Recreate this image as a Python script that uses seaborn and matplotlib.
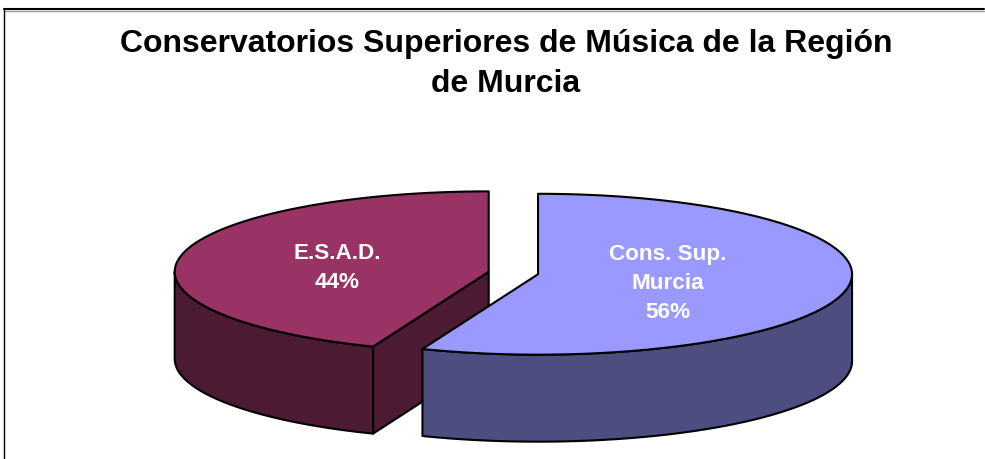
import numpy as np
import matplotlib.pyplot as plt
import seaborn as sns
from matplotlib.patches import Polygon
from matplotlib.lines import Line2D

sns.set_style("white")
plt.rcParams['font.family'] = ['Liberation Sans', 'DejaVu Sans']

# data (clockwise from 12 o'clock, as in the original chart)
categories = ["Cons. Sup.\nMurcia", "E.S.A.D."]
shares = [56, 44]
top_colors = ["#9999FF", "#993366"]
side_colors = ["#4D4D80", "#4C1A33"]
title = "Conservatorios Superiores de Música de la Región\nde Murcia"

# 3d look
tilt = 0.256      # vertical squash of the disc
depth = 0.277     # thickness of the disc
explode = 0.08
label_dist = [0.42, 0.49]

fig = plt.figure(figsize=(9.85, 4.59), dpi=100)
ax = fig.add_axes([0, 0, 1, 1])
ax.set_xlim(-1.635, 1.502)
ax.set_ylim(-0.592, 0.869)
ax.axis('off')

# slice angles (degrees, counter-clockwise math convention)
fracs = np.array(shares) / sum(shares) * 360
ends = 90 - np.concatenate([[0], np.cumsum(fracs)])
slices = []
for i in range(len(shares)):
    t2, t1 = ends[i], ends[i + 1]
    mid = np.deg2rad((t1 + t2) / 2)
    ox, oy = explode * np.cos(mid), explode * np.sin(mid) * tilt
    slices.append((t1, t2, mid, ox, oy))

edge = dict(edgecolor='black', linewidth=1.5, joinstyle='round')

def pt(ox, oy, ang, dz=0.0):
    a = np.deg2rad(ang)
    return ox + np.cos(a), oy + tilt * np.sin(a) - dz

# draw back slice first
for i in reversed(range(len(shares))):
    t1, t2, mid, ox, oy = slices[i]
    angs = np.linspace(t1, t2, 300)
    # outer wall (front half only)
    front = angs[np.sin(np.deg2rad(angs)) <= 1e-9]
    if len(front) > 1:
        top = [pt(ox, oy, a) for a in front]
        bot = [pt(ox, oy, a, depth) for a in front[::-1]]
        ax.add_patch(Polygon(top + bot, closed=True, facecolor=side_colors[i], **edge))
    # cut faces
    for ang, sgn in ((t1, -1), (t2, 1)):
        if sgn * np.cos(np.deg2rad(ang)) < -1e-6:
            face = [(ox, oy), pt(ox, oy, ang), pt(ox, oy, ang, depth), (ox, oy - depth)]
            ax.add_patch(Polygon(face, closed=True, facecolor=side_colors[i], **edge))
    # top surface
    top = [(ox, oy)] + [pt(ox, oy, a) for a in angs]
    ax.add_patch(Polygon(top, closed=True, facecolor=top_colors[i], **edge))
    # label
    lx = ox + label_dist[i] * np.cos(mid)
    ly = oy + label_dist[i] * tilt * np.sin(mid)
    ax.text(lx, ly - 0.01, f"{categories[i]}\n{shares[i]}%", ha='center', va='center',
            color='white', fontsize=16.2, fontweight='bold', linespacing=1.5)

fig.text(506 / 985, 1 - 64 / 459, title, ha='center', va='center', color='black',
         fontsize=23, fontweight='bold', linespacing=1.4)

# chart area frame (top and left edges)
fig.add_artist(Line2D([4 / 985, 984 / 985], [1 - 11 / 459] * 2, transform=fig.transFigure,
                      color='#999999', lw=1.0))
fig.add_artist(Line2D([4 / 985, 984 / 985], [1 - 9 / 459] * 2, transform=fig.transFigure,
                      color='black', lw=1.5))
fig.add_artist(Line2D([4 / 985, 4 / 985], [1 - 9 / 459, 0], transform=fig.transFigure,
                      color='black', lw=1.0))

plt.savefig('out.png', dpi=100)
